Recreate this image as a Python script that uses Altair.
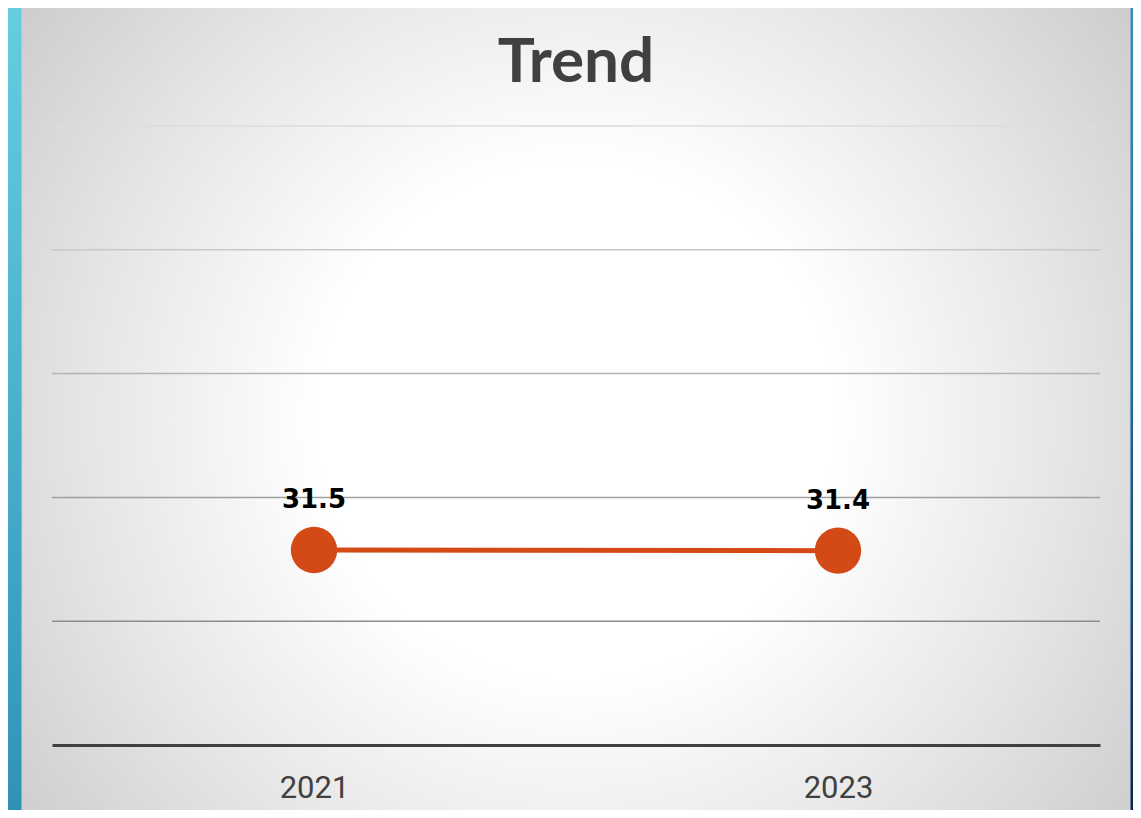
import altair as alt
import pandas as pd

years = ["2021", "2023"]
values = [31.5, 31.4]
grid_ticks = [20, 40, 60, 80, 100]
title_text = "Trend"

W, H = 1048, 619

df = pd.DataFrame({"year": years, "value": values})
grid_df = pd.DataFrame({"tick": grid_ticks})
one = pd.DataFrame({"k": [0]})

frame_grad = alt.LinearGradient(
    gradient="linear", x1=0, y1=0, x2=1, y2=1,
    stops=[
        alt.GradientStop(color="#66CEE0", offset=0),
        alt.GradientStop(color="#3499BC", offset=0.45),
        alt.GradientStop(color="#1E6792", offset=0.75),
        alt.GradientStop(color="#082450", offset=1),
    ],
)
card_grad = alt.RadialGradient(
    gradient="radial", x1=0.5, y1=0.5, r1=0, x2=0.5, y2=0.5, r2=0.707,
    stops=[
        alt.GradientStop(color="#ffffff", offset=0),
        alt.GradientStop(color="#ffffff", offset=0.33),
        alt.GradientStop(color="#e6e6e6", offset=0.62),
        alt.GradientStop(color="#c2c2c2", offset=1),
    ],
)

frame = alt.Chart(one).mark_rect(color=frame_grad).encode(
    x=alt.value(-44), x2=alt.value(1089), y=alt.value(-118), y2=alt.value(692)
)
card = alt.Chart(one).mark_rect(color=card_grad, stroke="#d2d2d2", strokeWidth=1).encode(
    x=alt.value(-30), x2=alt.value(1078), y=alt.value(-121), y2=alt.value(712)
)
title = alt.Chart(one).mark_text(
    text=title_text, font="Lato", fontWeight="bold", fontSize=62, color="#404040",
    align="center", baseline="alphabetic"
).encode(x=alt.value(W / 2), y=alt.value(-44))

yscale = alt.Scale(domain=[0, 100], nice=False, zero=True)

grid = alt.Chart(grid_df).transform_calculate(
    c="'rgb(' + (120 + datum.tick) + ',' + (120 + datum.tick) + ',' + (120 + datum.tick) + ')'"
).mark_rule(strokeWidth=1.5).encode(
    y=alt.Y("tick:Q", scale=yscale, axis=None),
    color=alt.Color("c:N", scale=None),
)

x_enc = alt.X(
    "year:O",
    scale=alt.Scale(type="point", padding=0.5),
    axis=alt.Axis(
        title=None, labelAngle=0, ticks=False, tickSize=0, domain=True,
        domainColor="#404040", domainWidth=3, labelColor="#404040",
        labelFont="Liberation Sans Narrow, Roboto, sans-serif", labelFontSize=31,
        labelBaseline="alphabetic", labelPadding=52, grid=False, zindex=1,
    ),
)
y_enc = alt.Y("value:Q", scale=yscale, axis=None)

base = alt.Chart(df).encode(x=x_enc, y=y_enc)
line = base.mark_line(color="#D34A17", strokeWidth=5)
pts = base.mark_circle(color="#D34A17", opacity=1, size=2150)
labels = base.mark_text(
    font="DejaVu Sans", fontWeight="bold", fontSize=26, color="#000000",
    baseline="alphabetic", dy=-42
).encode(text=alt.Text("value:Q", format=".1f"))

chart = alt.layer(frame, card, title, grid, line, pts, labels).properties(
    width=W, height=H,
    autosize=alt.AutoSizeParams(type="none"),
    padding={"left": 44, "top": 118, "right": 33, "bottom": 65},
    background="transparent",
).configure_view(stroke=None)

chart.save("out.html", embed_options={"renderer": "svg", "actions": False})
